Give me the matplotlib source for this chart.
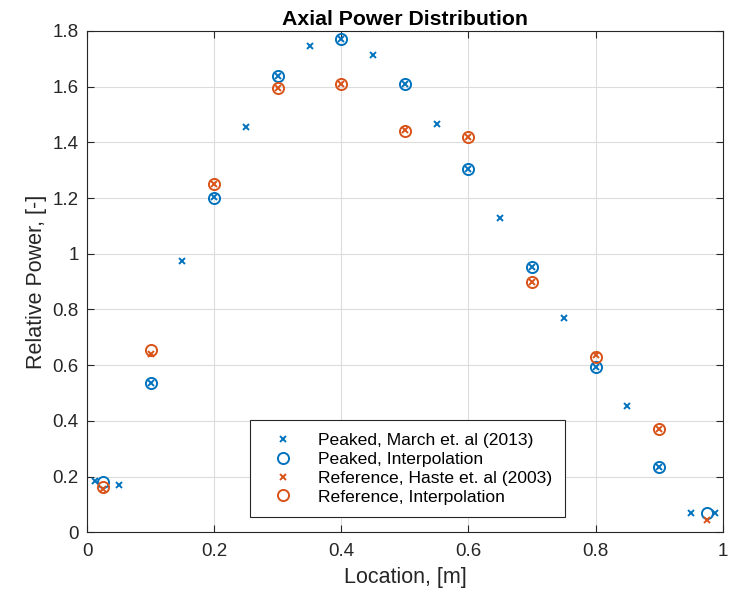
import matplotlib
matplotlib.use("Agg")
import matplotlib.pyplot as plt

plt.rcParams['font.family'] = ['Liberation Sans', 'DejaVu Sans']

# Peaked profile, March et al. (2013)
march_x = [0.0125, 0.05, 0.1, 0.15, 0.2, 0.25, 0.3, 0.35, 0.4, 0.45, 0.5,
           0.55, 0.6, 0.65, 0.7, 0.75, 0.8, 0.85, 0.9, 0.95, 0.9875]
march_y = [0.185, 0.17, 0.535, 0.975, 1.205, 1.455, 1.64, 1.745, 1.77, 1.715, 1.61,
           1.467, 1.305, 1.127, 0.952, 0.77, 0.595, 0.455, 0.235, 0.07, 0.07]

# Interpolated node positions
node_x = [0.025, 0.1, 0.2, 0.3, 0.4, 0.5, 0.6, 0.7, 0.8, 0.9, 0.975]
peaked_interp = [0.18, 0.535, 1.2, 1.64, 1.77, 1.61, 1.305, 0.952, 0.595, 0.235, 0.07]

# Reference profile, Haste et al. (2003)
haste_y = [0.155, 0.64, 1.25, 1.595, 1.61, 1.445, 1.42, 0.9, 0.635, 0.37, 0.045]
ref_interp_x = [0.025, 0.1, 0.2, 0.3, 0.4, 0.5, 0.6, 0.7, 0.8, 0.9]
ref_interp = [0.162, 0.655, 1.252, 1.595, 1.61, 1.442, 1.42, 0.9, 0.63, 0.37]

blue = '#0072BD'
orange = '#D95319'

fig = plt.figure(figsize=(7.45, 5.96), dpi=100)
ax = fig.add_axes([0.117, 0.107, 0.853, 0.841])

ax.plot(march_x, march_y, 'x', color=blue, markersize=5, markeredgewidth=1.4,
        label='Peaked, March et. al (2013)')
ax.plot(node_x, peaked_interp, 'o', color=blue, markerfacecolor='none', markersize=8,
        markeredgewidth=1.4, label='Peaked, Interpolation')
ax.plot(node_x, haste_y, 'x', color=orange, markersize=5, markeredgewidth=1.4,
        label='Reference, Haste et. al (2003)')
ax.plot(ref_interp_x, ref_interp, 'o', color=orange, markerfacecolor='none', markersize=8,
        markeredgewidth=1.4, label='Reference, Interpolation')

ax.set_xlim(0, 1)
ax.set_ylim(0, 1.8)
ax.set_xticks([0, 0.2, 0.4, 0.6, 0.8, 1])
ax.set_xticklabels(['0', '0.2', '0.4', '0.6', '0.8', '1'])
ax.set_yticks([0, 0.2, 0.4, 0.6, 0.8, 1, 1.2, 1.4, 1.6, 1.8])
ax.set_yticklabels(['0', '0.2', '0.4', '0.6', '0.8', '1', '1.2', '1.4', '1.6', '1.8'])
ax.tick_params(direction='in', length=5, width=0.8, labelsize=13.5, colors='#262626',
               top=True, right=True)
ax.tick_params(axis='x', pad=8)
ax.tick_params(axis='y', pad=6)
ax.grid(True, color='#dcdcdc', linewidth=0.8)
ax.set_axisbelow(True)
for s in ax.spines.values():
    s.set_color('#262626')
    s.set_linewidth(0.8)

ax.set_xlabel('Location, [m]', fontsize=15.5, color='#262626', labelpad=5)
ax.set_ylabel('Relative Power, [-]', fontsize=15.5, color='#262626', labelpad=4)
ax.set_title('Axial Power Distribution', fontsize=15.3, fontweight='bold', pad=4)

leg = ax.legend(loc='lower left', bbox_to_anchor=(0.256, 0.03), borderaxespad=0,
                fontsize=12.6, frameon=True, fancybox=False, edgecolor='#262626',
                framealpha=1, handletextpad=0.9, borderpad=0.72, labelspacing=0.2,
                handlelength=2.3)
leg.get_frame().set_linewidth(0.8)

fig.savefig('out.png', dpi=100)
